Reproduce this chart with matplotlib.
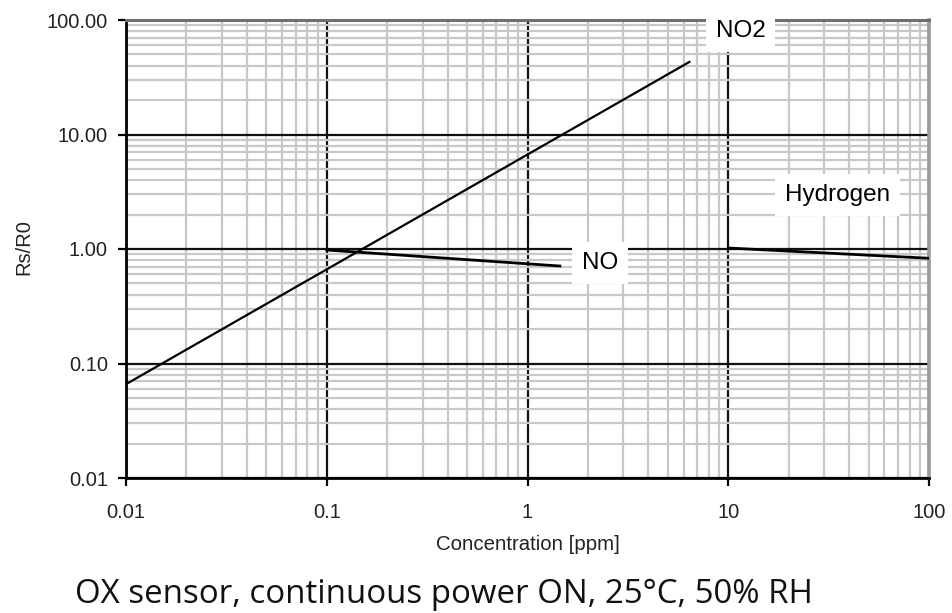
import matplotlib
matplotlib.use("Agg")
import matplotlib.pyplot as plt
from matplotlib.ticker import FixedLocator, LogLocator, FuncFormatter, NullFormatter

# Rs/R0 response curves
no2_ppm = [0.01, 6.4]
no2_ratio = [0.066, 43.0]
no_ppm = [0.1, 1.45]
no_ratio = [0.98, 0.71]
h2_ppm = [10.0, 100.0]
h2_ratio = [1.02, 0.83]

x_ticks = [0.01, 0.1, 1, 10, 100]
y_ticks = [0.01, 0.1, 1, 10, 100]

plt.rcParams['font.family'] = ['Liberation Sans', 'DejaVu Sans']

fig = plt.figure(figsize=(9.53, 6.13), dpi=100)
ax = fig.add_axes([126 / 953, 1 - 478 / 613, 803 / 953, 458 / 613])

ax.set_xscale('log')
ax.set_yscale('log')
ax.set_xlim(0.01, 100)
ax.set_ylim(0.01, 100)

# grid: grey minor, black major
ax.xaxis.set_major_locator(FixedLocator(x_ticks))
ax.yaxis.set_major_locator(FixedLocator(y_ticks))
ax.xaxis.set_minor_locator(LogLocator(base=10, subs=range(2, 10), numticks=20))
ax.yaxis.set_minor_locator(LogLocator(base=10, subs=range(2, 10), numticks=20))
ax.xaxis.set_minor_formatter(NullFormatter())
ax.yaxis.set_minor_formatter(NullFormatter())
ax.grid(which='minor', color='#c8c8c8', lw=1.6)
ax.grid(which='major', color='#111111', lw=1.6)
ax.tick_params(which='minor', length=0)
ax.tick_params(which='major', length=6, width=1.6, direction='out',
               labelsize=14.5, labelcolor='#222222')
ax.tick_params(axis='x', pad=12)
ax.tick_params(axis='y', pad=7)
ax.xaxis.set_major_formatter(FuncFormatter(lambda v, p: '%g' % v))
ax.yaxis.set_major_formatter(FuncFormatter(lambda v, p: '%.2f' % v))

for s in ['left', 'bottom']:
    ax.spines[s].set_color('black')
    ax.spines[s].set_linewidth(2)
ax.spines['top'].set_color('#6f6f6f')
ax.spines['top'].set_linewidth(2.2)
ax.spines['right'].set_color('#999999')
ax.spines['right'].set_linewidth(2.6)

ax.plot(no2_ppm, no2_ratio, color='black', lw=1.6, zorder=4)
ax.plot(no_ppm, no_ratio, color='black', lw=2, zorder=4)
ax.plot(h2_ppm, h2_ratio, color='black', lw=2, zorder=4)

box = dict(facecolor='white', edgecolor='none', pad=7)
ax.text(11.5, 80, 'NO2', fontsize=17.5, ha='center', va='center', bbox=box, zorder=5)
ax.text(2.3, 0.755, 'NO', fontsize=17.5, ha='center', va='center', bbox=box, zorder=5)
ax.text(35, 2.97, 'Hydrogen', fontsize=17.5, ha='center', va='center', bbox=box, zorder=5)

ax.set_xlabel('Concentration [ppm]', fontsize=14.7, color='#222222', labelpad=9)
fig.text(24 / 953, 1 - 247 / 613, 'Rs/R0', fontsize=14.5, color='#222222',
         rotation=90, ha='center', va='center')

fig.text(444 / 953, 1 - 603 / 613, 'OX sensor, continuous power ON, 25°C, 50% RH',
         fontsize=23.8, family=['Open Sans', 'DejaVu Sans'], color='#111111',
         ha='center', va='baseline')

fig.savefig('out.png', dpi=100)
